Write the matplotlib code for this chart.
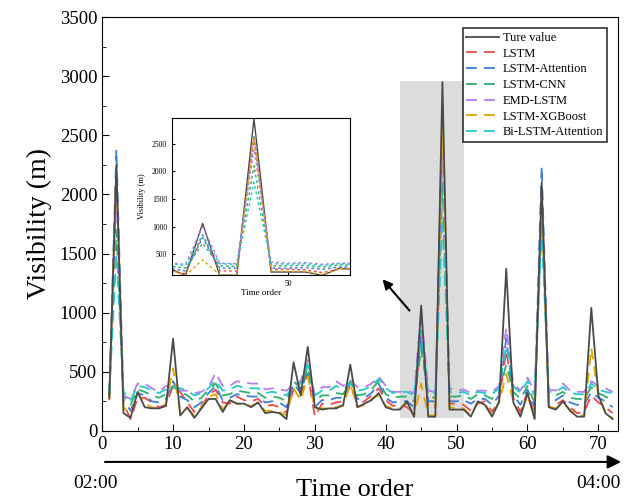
import numpy as np
import matplotlib.pyplot as plt
from matplotlib.patches import Rectangle

plt.rcParams['font.family'] = ['Liberation Serif', 'DejaVu Serif']

# visibility values for time order 1..72
true_vis = [280, 2250, 150, 110, 330, 200, 190, 190, 210, 780, 130, 200, 110, 190, 270, 270, 160, 260, 230, 230,
            200, 240, 150, 160, 150, 100, 580, 300, 710, 200, 180, 190, 190, 220, 560, 200, 230, 260, 320, 200,
            180, 180, 250, 120, 1060, 120, 120, 2950, 180, 180, 180, 120, 250, 220, 120, 250, 1370, 240, 120, 320,
            100, 2100, 200, 180, 250, 170, 120, 120, 1040, 300, 150, 100]
lstm = [260, 2200, 230, 100, 280, 280, 240, 200, 220, 380, 330, 240, 160, 210, 300, 350, 240, 230, 290, 260,
        250, 270, 210, 220, 200, 150, 350, 300, 480, 120, 230, 220, 240, 250, 380, 230, 250, 300, 360, 260,
        210, 220, 200, 150, 850, 200, 200, 2600, 230, 230, 220, 170, 230, 250, 160, 260, 680, 280, 160, 330,
        140, 2050, 200, 220, 260, 200, 150, 160, 300, 240, 200, 150]
lstm_att = [300, 2380, 260, 170, 320, 300, 250, 240, 270, 420, 290, 260, 200, 240, 320, 380, 260, 280, 310, 300,
            290, 290, 240, 250, 240, 200, 400, 320, 520, 200, 260, 260, 280, 280, 400, 270, 280, 320, 400, 280,
            240, 250, 250, 200, 800, 250, 250, 2650, 250, 250, 260, 230, 270, 270, 220, 300, 780, 300, 220, 350,
            200, 2240, 260, 260, 300, 240, 220, 220, 330, 280, 250, 200]
lstm_cnn = [300, 1700, 300, 220, 350, 330, 300, 280, 310, 380, 330, 300, 250, 280, 350, 400, 300, 310, 340, 330,
            320, 320, 280, 290, 280, 250, 420, 360, 540, 250, 300, 300, 320, 310, 420, 300, 310, 350, 420, 310,
            280, 290, 290, 250, 700, 290, 280, 2100, 290, 290, 300, 270, 310, 300, 270, 330, 560, 330, 270, 380,
            240, 1800, 300, 300, 330, 280, 270, 270, 370, 320, 290, 260]
emd_lstm = [320, 2000, 300, 270, 400, 400, 360, 330, 380, 370, 340, 340, 320, 330, 370, 490, 380, 380, 420, 410,
            400, 400, 350, 360, 350, 340, 390, 420, 600, 300, 370, 370, 420, 380, 430, 370, 370, 400, 460, 380,
            330, 330, 340, 320, 1000, 340, 330, 2400, 360, 340, 350, 320, 340, 340, 330, 380, 870, 400, 340, 450,
            330, 1950, 350, 340, 400, 340, 330, 330, 420, 380, 360, 330]
lstm_xgb = [280, 2250, 200, 140, 320, 230, 200, 190, 230, 530, 160, 190, 130, 200, 290, 310, 180, 260, 230, 230,
            210, 240, 170, 170, 160, 130, 360, 260, 460, 190, 190, 190, 200, 210, 400, 200, 220, 270, 300, 210,
            190, 190, 230, 120, 400, 130, 130, 2600, 200, 190, 190, 130, 240, 230, 130, 240, 480, 250, 130, 300,
            110, 1900, 210, 190, 240, 180, 130, 130, 700, 300, 160, 110]
bi_lstm_att = [320, 1500, 330, 260, 380, 370, 340, 320, 350, 360, 360, 340, 300, 320, 360, 430, 340, 350, 380, 370,
               360, 360, 320, 330, 320, 300, 380, 400, 560, 300, 340, 340, 380, 350, 400, 340, 350, 380, 440, 360,
               320, 330, 330, 300, 850, 330, 320, 1800, 330, 320, 330, 300, 330, 320, 310, 360, 720, 380, 320, 420,
               300, 1700, 330, 330, 370, 320, 310, 310, 400, 350, 330, 320]

x = np.arange(1, len(true_vis) + 1)

models = [('LSTM', lstm, '#f0474a'),
          ('LSTM-Attention', lstm_att, '#3a7fd9'),
          ('LSTM-CNN', lstm_cnn, '#2fae6e'),
          ('EMD-LSTM', emd_lstm, '#b77cf0'),
          ('LSTM-XGBoost', lstm_xgb, '#e2a500'),
          ('Bi-LSTM-Attention', bi_lstm_att, '#22c9c9')]

fig = plt.figure(figsize=(6.27, 5.01), dpi=100)
ax = fig.add_axes([0.163, 0.140, 0.823, 0.826])

ax.add_patch(Rectangle((42, 110), 9, 2850, facecolor='#dcdcdc', edgecolor='none', zorder=0))
ax.plot(x, true_vis, color='#4a4a4a', lw=1.3, label='Ture value', zorder=3)
for name, vals, c in models:
    ax.plot(x, vals, color=c, lw=1.3, dashes=(6, 4), label=name, zorder=2)

ax.set_xlim(0, 72.8)
ax.set_ylim(0, 3500)
ax.set_xticks(range(0, 71, 10))
ax.set_xticks(range(5, 71, 10), minor=True)
ax.set_yticks(range(0, 3501, 500))
ax.set_yticks(range(250, 3500, 500), minor=True)
ax.tick_params(which='both', direction='in', top=False, right=False, labelsize=13.5)
ax.tick_params(which='major', length=5)
ax.tick_params(which='minor', length=3)
ax.set_ylabel('Visibility (m)', fontsize=20, labelpad=6)

leg = ax.legend(loc='upper right', fontsize=9, frameon=True, fancybox=False, edgecolor='black',
                handlelength=2.6, borderpad=0.3, labelspacing=0.3, handletextpad=0.3,
                bbox_to_anchor=(0.99, 0.988))
leg.get_frame().set_linewidth(1.2)

ax.annotate('', xy=(39.3, 1300), xytext=(43.6, 1000),
            arrowprops=dict(arrowstyle='-|>', color='black', lw=1.5, mutation_scale=14))

# inset zoom
axin = fig.add_axes([0.274, 0.451, 0.284, 0.313])
axin.plot(x, true_vis, color='#4a4a4a', lw=1.0)
for name, vals, c in models:
    axin.plot(x, vals, color=c, lw=1.0, dashes=(2, 2))
axin.set_xlim(43.2, 53.6)
axin.set_ylim(125, 2960)
axin.set_xticks([50])
axin.set_yticks([500, 1000, 1500, 2000, 2500])
axin.tick_params(direction='in', labelsize=5.5, length=2)
axin.set_ylabel('Visibility (m)', fontsize=6)
axin.set_xlabel('Time order', fontsize=6.5, labelpad=1)

# time arrow below the axis
ax.annotate('', xy=(0.995, 0.078), xytext=(0.163, 0.078), xycoords='figure fraction',
            textcoords='figure fraction',
            arrowprops=dict(arrowstyle='-|>', color='black', lw=1.5, mutation_scale=20))
fig.text(0.152, 0.035, '02:00', fontsize=14, ha='center', va='center')
fig.text(0.955, 0.035, '04:00', fontsize=14, ha='center', va='center')
fig.text(0.566, 0.022, 'Time order', fontsize=19, ha='center', va='center')

fig.savefig('out.png', dpi=100)
